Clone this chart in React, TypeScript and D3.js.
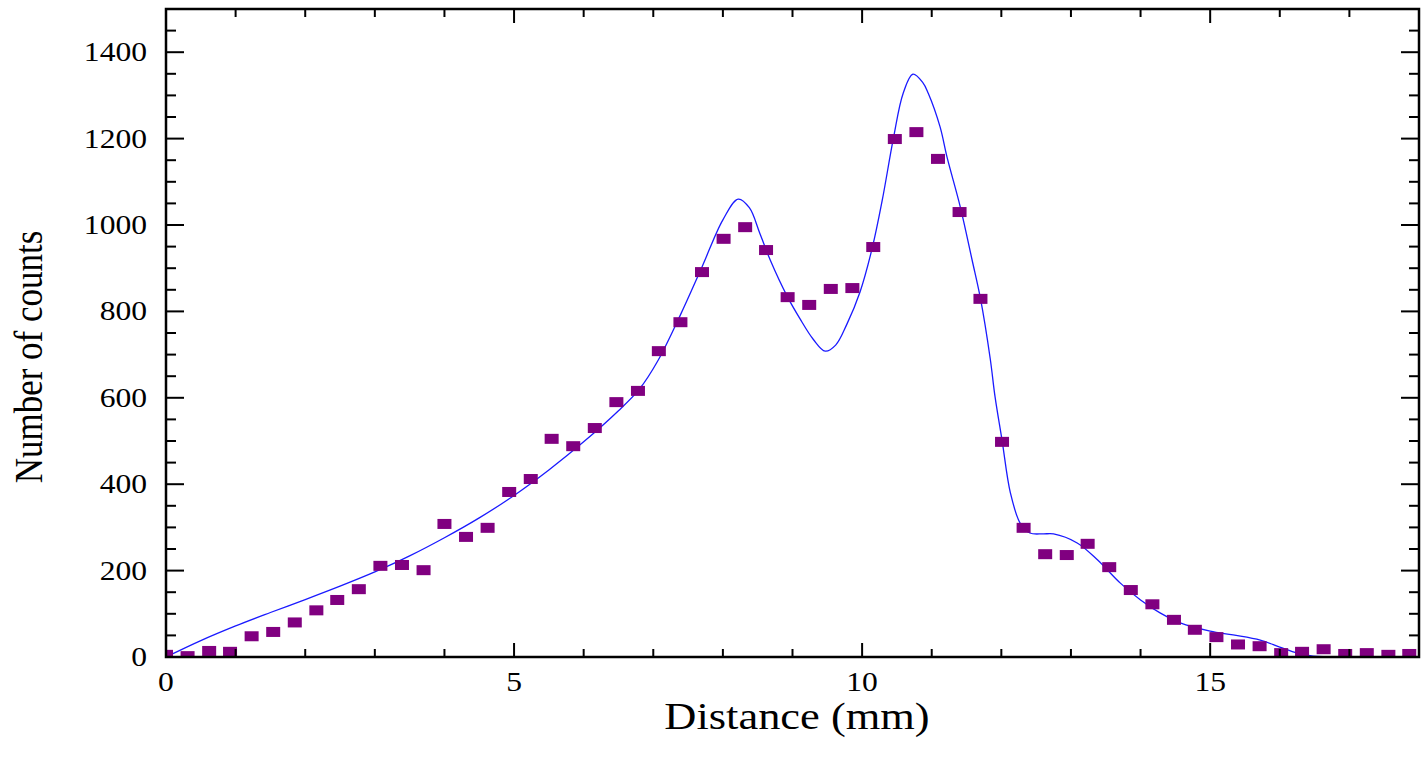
import React from "react";
import * as d3 from "d3";

const distance = [0.00, 0.31, 0.62, 0.92, 1.23, 1.54, 1.85, 2.16, 2.46, 2.77, 3.08, 3.39, 3.70, 4.00, 4.31, 4.62, 4.93, 5.24, 5.54, 5.85, 6.16, 6.47, 6.78, 7.08, 7.39, 7.70, 8.01, 8.32, 8.62, 8.93, 9.24, 9.55, 9.86, 10.16, 10.47, 10.78, 11.09, 11.40, 11.70, 12.01, 12.32, 12.63, 12.94, 13.24, 13.55, 13.86, 14.17, 14.48, 14.78, 15.09, 15.40, 15.71, 16.02, 16.32, 16.63, 16.94, 17.25, 17.56, 17.86];
const counts = [5, 2, 14, 12, 48, 58, 80, 108, 132, 157, 211, 213, 201, 308, 278, 299, 382, 412, 505, 488, 530, 590, 616, 708, 775, 891, 968, 995, 942, 833, 815, 852, 854, 949, 1199, 1215, 1153, 1030, 829, 498, 299, 238, 236, 262, 208, 155, 122, 86, 63, 46, 29, 25, 9, 12, 18, 7, 9, 5, 7];

const fitX = [0, 0.5, 1, 1.5, 2, 2.5, 3, 3.5, 4, 4.5, 5, 5.5, 6, 6.5, 6.8, 7.07, 7.39, 7.7, 8.0, 8.22, 8.38, 8.53, 8.68, 8.93, 9.1, 9.3, 9.47, 9.62, 9.78, 9.97, 10.15, 10.29, 10.45, 10.59, 10.73, 10.87, 10.95, 11.12, 11.22, 11.41, 11.58, 11.7, 11.84, 11.91, 12.01, 12.13, 12.27, 12.41, 12.6, 12.75, 13.09, 13.38, 13.71, 14.0, 14.28, 14.57, 15.0, 15.33, 15.72, 16.0, 16.25, 16.48, 17, 18];
const fitY = [0, 38, 72, 103, 133, 164, 197, 234, 276, 322, 374, 433, 498, 570, 620, 687, 792, 903, 1012, 1060, 1040, 981, 919, 833, 785, 735, 708, 722, 770, 845, 950, 1058, 1201, 1305, 1349, 1330, 1305, 1227, 1157, 1042, 919, 830, 691, 602, 502, 380, 310, 287, 285, 285, 264, 225, 171, 132, 102, 79, 60, 51, 39, 23, 9, 2, 0, 0];

const yTickLabels = [0, 200, 400, 600, 800, 1000, 1200, 1400];
const xTickLabels = [0, 5, 10, 15];

const W = 1423, H = 757;
const left = 166, right = 1419, top = 9, bottom = 657;
const STRETCH = 1.17;

export default function App() {
  const x = d3.scaleLinear().domain([0, 18]).range([left, right]);
  const y = d3.scaleLinear().domain([0, 1500]).range([bottom, top]);

  const line = d3.line<number>()
    .x((_, i) => x(fitX[i]))
    .y((d) => y(d))
    .curve(d3.curveCatmullRom.alpha(0.5));

  const yMinor = d3.range(0, 1501, 50);
  const xMinor = d3.range(0, 18.01, 1);
  const font = "'Liberation Serif', 'Times New Roman', serif";

  return (
    <svg width={W} height={H} style={{ position: "absolute", left: 0, top: 0, background: "#fff" }}>
      <defs>
        <clipPath id="plot">
          <rect x={left} y={top} width={right - left} height={bottom - top} />
        </clipPath>
      </defs>
      <rect x={0} y={0} width={W} height={H} fill="#fff" />
      <g clipPath="url(#plot)">
        <path d={line(fitY) || ""} fill="none" stroke="#1a1aff" strokeWidth={1.3} />
        {counts.map((c, i) => (
          <rect key={i} x={x(distance[i]) - 7} y={y(c) - 5} width={14} height={10} fill="#800080" />
        ))}
      </g>
      <g stroke="#000" strokeWidth={2}>
        {yMinor.map((v) => {
          const major = v % 200 === 0;
          const len = major ? 18 : 10;
          return (
            <g key={"y" + v}>
              <line x1={left} x2={left + len} y1={y(v)} y2={y(v)} />
              <line x1={right} x2={right - len} y1={y(v)} y2={y(v)} />
            </g>
          );
        })}
        {xMinor.map((v) => {
          const major = v % 5 === 0;
          const len = major ? 14 : 8;
          return (
            <g key={"x" + v}>
              <line x1={x(v)} x2={x(v)} y1={bottom} y2={bottom - len} />
              <line x1={x(v)} x2={x(v)} y1={top} y2={top + len} />
            </g>
          );
        })}
      </g>
      <rect x={left} y={top} width={right - left} height={bottom - top} fill="none" stroke="#000" strokeWidth={2.5} />
      {yTickLabels.map((v) => (
        <text key={"yl" + v} transform={`translate(147,${y(v) + 9}) scale(${STRETCH},1)`} textAnchor="end"
          fontFamily={font} fontSize={27} fill="#000">{v}</text>
      ))}
      {xTickLabels.map((v) => (
        <text key={"xl" + v} transform={`translate(${x(v)},${691}) scale(${STRETCH},1)`} textAnchor="middle"
          fontFamily={font} fontSize={27} fill="#000">{v}</text>
      ))}
      <text transform={`translate(797,729) scale(${STRETCH},1)`} textAnchor="middle" fontFamily={font} fontSize={38} fill="#000">Distance (mm)</text>
      <text transform={`translate(42,357) scale(${STRETCH},1) rotate(-90)`} textAnchor="middle" fontFamily={font} fontSize={35} fill="#000">Number of counts</text>
    </svg>
  );
}
